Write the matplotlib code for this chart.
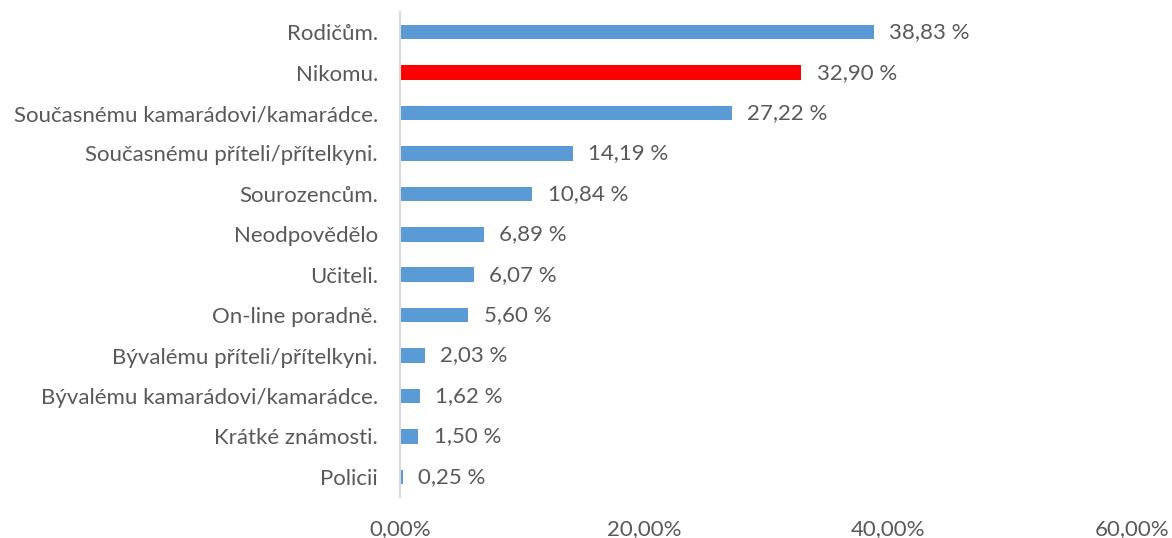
import matplotlib
matplotlib.use("Agg")
import matplotlib.pyplot as plt
from matplotlib.ticker import FuncFormatter

categories = ["Rodičům.", "Nikomu.", "Současnému kamarádovi/kamarádce.",
              "Současnému příteli/přítelkyni.", "Sourozencům.", "Neodpovědělo",
              "Učiteli.", "On-line poradně.", "Bývalému příteli/přítelkyni.",
              "Bývalému kamarádovi/kamarádce.", "Krátké známosti.", "Policii"]
values = [38.83, 32.90, 27.22, 14.19, 10.84, 6.89, 6.07, 5.60, 2.03, 1.62, 1.50, 0.25]
highlight = "Nikomu."
xticks = [0, 20, 40, 60]

plt.rcParams['font.family'] = ['Lato', 'DejaVu Sans']
text_color = "#595959"
fs = 16

fig = plt.figure(figsize=(11.72, 5.38), dpi=100)
ax = fig.add_axes([400/1172, 1 - 497/538, (1132-400)/1172, (497-12)/538])

ypos = list(range(len(categories)))
colors = ["#FF0000" if c == highlight else "#5B9BD5" for c in categories]
ax.barh(ypos, values, height=0.36, color=colors)

for y, v in zip(ypos, values):
    ax.annotate(f"{v:.2f} %".replace(".", ","), xy=(v, y), xytext=(11, 0),
                textcoords="offset points", va="center", ha="left",
                fontsize=fs, color=text_color)

ax.set_ylim(len(categories) - 0.5, -0.5)
ax.set_xlim(0, 60)
ax.set_yticks(ypos)
ax.set_yticklabels(categories)
ax.set_xticks(xticks)
ax.xaxis.set_major_formatter(FuncFormatter(lambda x, p: f"{x:.2f}%".replace(".", ",")))
ax.tick_params(axis='both', length=0, labelsize=fs, labelcolor=text_color)
ax.tick_params(axis='y', pad=16)
ax.tick_params(axis='x', pad=16)

for s in ["top", "right", "bottom"]:
    ax.spines[s].set_visible(False)
ax.spines["left"].set_color("#D9D9D9")
ax.spines["left"].set_linewidth(1.5)

fig.savefig("out.png", dpi=100)
